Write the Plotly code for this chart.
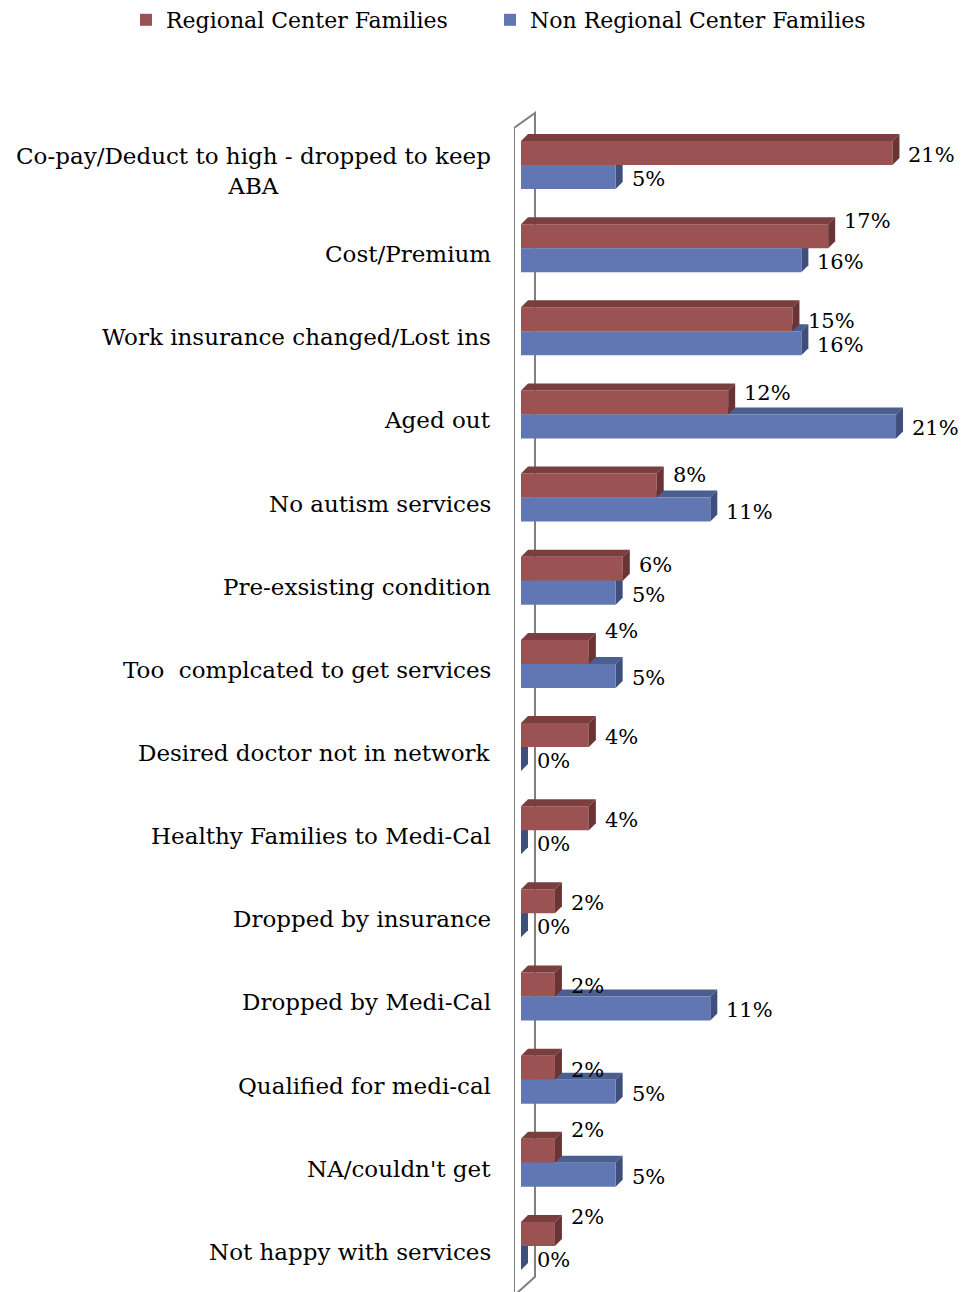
import plotly.graph_objects as go

# categories top to bottom
categories = [
    "Co-pay/Deduct to high - dropped to keep<br>ABA",
    "Cost/Premium",
    "Work insurance changed/Lost ins",
    "Aged out",
    "No autism services",
    "Pre-exsisting condition",
    "Too  complcated to get services",
    "Desired doctor not in network",
    "Healthy Families to Medi-Cal",
    "Dropped by insurance",
    "Dropped by Medi-Cal",
    "Qualified for medi-cal",
    "NA/couldn't get",
    "Not happy with services",
]
regional = [20.8, 17.2, 15.2, 11.6, 7.6, 5.7, 3.8, 3.8, 3.8, 1.9, 1.9, 1.9, 1.9, 1.9]
non_regional = [5.3, 15.7, 15.7, 21.0, 10.6, 5.3, 5.3, 0, 0, 0, 10.6, 5.3, 5.3, 0]

# label lift (px) for the regional labels, as excel placed them
rc_lift = [0, 17, 0, 11, 13, 6, 23, 0, 0, 0, 0, 0, 23, 19]

RC_FRONT, RC_TOP, RC_SIDE = "#9B5252", "#7A3E3E", "#6A3434"
NR_FRONT, NR_TOP, NR_SIDE = "#6177B4", "#4A5E90", "#3F4F7C"
FONT = "DejaVu Serif"

# geometry (data units)
dx = 7 / 17.86     # depth in x
dy = 7 / 83.15     # depth in y
h = 24 / 83.15     # bar thickness
ks = list(range(len(categories)))


def poly(pts):
    return "M " + " L ".join(f"{x},{y}" for x, y in pts) + " Z"


fig = go.Figure()
fig.add_trace(go.Bar(
    name="Regional Center Families", y=ks, x=regional, orientation="h",
    base=0, offset=-h, width=h, marker=dict(color=RC_FRONT, line=dict(width=0)),
    legend="legend",
))
fig.add_trace(go.Bar(
    name="Non Regional Center Families", y=ks, x=non_regional, orientation="h",
    base=0, offset=0, width=h, marker=dict(color=NR_FRONT, line=dict(width=0)),
    legend="legend2",
))

shapes = []
# back wall edge
wall = [(-dx, 13.6), (-dx, -0.445), (2 * dx, -0.625), (2 * dx, 13.37)]
shapes.append(dict(type="path", path=poly(wall), xref="x", yref="y", layer="below",
                   line=dict(color="#808080", width=2), fillcolor="rgba(0,0,0,0)"))

for k, r, n in zip(ks, regional, non_regional):
    # non regional faces sit behind the regional bars
    if n > 0:
        shapes.append(dict(type="path", xref="x", yref="y", layer="below",
                           path=poly([(0, k), (n, k), (n + dx, k - dy), (dx, k - dy)]),
                           fillcolor=NR_TOP, line=dict(width=0)))
    shapes.append(dict(type="path", xref="x", yref="y", layer="below",
                       path=poly([(n, k), (n, k + h), (n + dx, k + h - dy), (n + dx, k - dy)]),
                       fillcolor=NR_SIDE, line=dict(width=0)))
    t = k - h
    shapes.append(dict(type="path", xref="x", yref="y", layer="above",
                       path=poly([(0, t), (r, t), (r + dx, t - dy), (dx, t - dy)]),
                       fillcolor=RC_TOP, line=dict(width=0)))
    shapes.append(dict(type="path", xref="x", yref="y", layer="above",
                       path=poly([(r, t), (r, k), (r + dx, k - dy), (r + dx, t - dy)]),
                       fillcolor=RC_SIDE, line=dict(width=0)))

annotations = []
for k, cat in zip(ks, categories):
    annotations.append(dict(x=0, xref="paper", xanchor="right", xshift=-21,
                            y=k, yref="y", yshift=-6, text=cat, align="center",
                            showarrow=False, font=dict(family=FONT, size=23, color="black")))
for k, r, n, lift in zip(ks, regional, non_regional, rc_lift):
    annotations.append(dict(x=r + dx, xref="x", xanchor="left", xshift=7,
                            y=k - h / 2, yref="y", yshift=-2 + lift, text=f"{r:.0f}%",
                            showarrow=False, font=dict(family=FONT, size=21, color="black")))
    annotations.append(dict(x=n + dx, xref="x", xanchor="left", xshift=7,
                            y=k + h / 2, yref="y", yshift=-2, text=f"{n:.0f}%",
                            showarrow=False, font=dict(family=FONT, size=21, color="black")))

legend_style = dict(orientation="h", xref="container", yref="container",
                    xanchor="left", yanchor="middle", y=1 - 20 / 1292,
                    font=dict(family=FONT, size=22, color="black"))

fig.update_layout(
    width=968, height=1292,
    margin=dict(l=514, r=10, t=100, b=0),
    barmode="overlay",
    plot_bgcolor="white", paper_bgcolor="white",
    xaxis=dict(range=[-dx, 24.47], visible=False),
    yaxis=dict(range=[13.554, -0.782], visible=False),
    shapes=shapes,
    annotations=annotations,
    showlegend=True,
    legend=dict(legend_style, x=126 / 968),
    legend2=dict(legend_style, x=490 / 968),
    font=dict(family=FONT),
)

fig.write_html("out.html", config={"displayModeBar": False},
               post_script="document.body.style.margin='0';")
